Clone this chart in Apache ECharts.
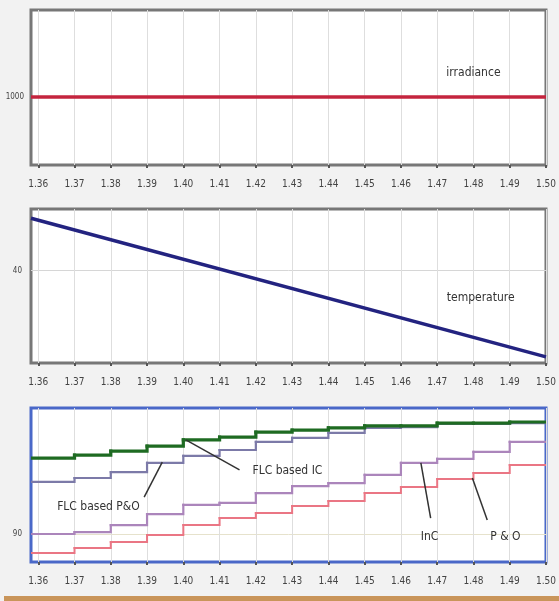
<!DOCTYPE html>
<html><head><meta charset="utf-8">
<script src="https://cdn.jsdelivr.net/npm/echarts@6/dist/echarts.min.js"></script>
<style>html,body{margin:0;padding:0;background:#f2f2f2;}#c{width:559px;height:601px;}</style>
</head><body><div id="c"></div>
<script>
// ---- data ----
const xTicks = [1.36,1.37,1.38,1.39,1.40,1.41,1.42,1.43,1.44,1.45,1.46,1.47,1.48,1.49,1.50];
const xStart = 1.358, xEnd = 1.50;
const stepX = [1.358,1.37,1.38,1.39,1.40,1.41,1.42,1.43,1.44,1.45,1.46,1.47,1.48,1.49];
const irradiance = [1000, 1000];
const temperature = [43.4, 34.4];
const flcIC  = [117.1,118.2,119.6,121.4,123.6,124.6,126.4,127.1,127.9,128.6,128.6,129.6,129.6,130.0];
const flcPO  = [108.6,110.0,112.1,115.4,117.9,120.0,122.9,124.3,126.1,127.9,128.2,129.3,129.3,129.6];
const inc    = [90.0,90.7,93.2,97.1,100.4,101.1,104.6,107.1,108.2,111.1,115.4,116.8,119.3,122.9];
const po     = [83.2,85.0,87.1,89.6,93.2,95.7,97.5,100.0,101.8,104.6,106.8,109.6,111.8,114.6];

const font = "'DejaVu Sans Condensed','Liberation Sans Narrow','Liberation Sans',sans-serif";
// each step segment: [xFrom, xTo, value, nextValue]
function stepSegments(vals){
  return stepX.map((x,i)=>[x, i < stepX.length-1 ? stepX[i+1] : xEnd, vals[i], i < vals.length-1 ? vals[i+1] : vals[i]]);
}
function stepSeries(vals, color, width){
  return {type:'custom', xAxisIndex:2, yAxisIndex:2, data:stepSegments(vals), encode:{x:[0,1], y:[2,3]}, clip:true,
    renderItem:(params, api)=>{
      const x0=api.value(0), x1=api.value(1), v=api.value(2), vn=api.value(3);
      return {type:'polyline', shape:{points:[api.coord([x0,v]), api.coord([x1,v]), api.coord([x1,vn])]},
        style:{stroke:color, lineWidth:width, fill:null, lineCap:'square', lineJoin:'miter'}};
    }};
}
const grids = [
  {left:31, top:10, width:518, height:155},
  {left:31, top:209, width:518, height:154},
  {left:31, top:408, width:518, height:154}
];
const borderCols = ['#777777','#777777','#4a68c8'];
const chart = echarts.init(document.getElementById('c'));
const xAxes = grids.map((g,i)=>({
  type:'value', gridIndex:i, min:xStart, max:xEnd,
  axisLine:{show:false},
  axisTick:{show:true, customValues:xTicks, length:3, lineStyle:{color:'#555', width:2}},
  axisLabel:{customValues:xTicks, formatter:v=>v.toFixed(2), fontFamily:font, fontSize:10, color:'#444', margin:14},
  splitLine:{show:true, lineStyle:{color:'#dedede', width:1}}
}));
const yAxes = [
  {type:'value', gridIndex:0, min:0, max:2280, axisLine:{show:false}, axisTick:{show:false, customValues:[1000]},
   axisLabel:{customValues:[1000], formatter:v=>String(v), fontFamily:font, fontSize:8, color:'#444', margin:7}, splitLine:{show:false}},
  {type:'value', gridIndex:1, min:34, max:44, axisLine:{show:false}, axisTick:{show:false, customValues:[40]},
   axisLabel:{customValues:[40], formatter:v=>String(v), fontFamily:font, fontSize:8, color:'#444', margin:9}, splitLine:{show:true, lineStyle:{color:'#d6d6d6'}}},
  {type:'value', gridIndex:2, min:80, max:135, axisLine:{show:false}, axisTick:{show:false, customValues:[90]},
   axisLabel:{customValues:[90], formatter:v=>String(v), fontFamily:font, fontSize:8, color:'#444', margin:9}, splitLine:{show:true, lineStyle:{color:'#e6e2cc'}}}
];
const txt = (name, coord, size) => ({name, coord, symbolSize:0, label:{show:true, formatter:'{b}', position:'inside', fontFamily:font, fontSize:size||12, color:'#333'}});
const lead = (a,b) => [{coord:a},{coord:b}];
chart.setOption({
  animation:false,
  backgroundColor:'#f2f2f2',
  grid: grids.map((g,i)=>Object.assign({show:true, backgroundColor:'#ffffff', borderColor:borderCols[i], borderWidth:3}, g)),
  xAxis:xAxes, yAxis:yAxes,
  series:[
    {type:'line', xAxisIndex:0, yAxisIndex:0, data:[[xStart, irradiance[0]],[xEnd, irradiance[1]]], symbol:'none', lineStyle:{color:'#c4243e', width:3.5},
     markPoint:{data:[txt('irradiance',[1.480,1350],12)]}},
    {type:'line', xAxisIndex:1, yAxisIndex:1, data:[[xStart, temperature[0]],[xEnd, temperature[1]]], symbol:'none', lineStyle:{color:'#232380', width:3.5},
     markPoint:{data:[txt('temperature',[1.482,38.2],12)]}},
    stepSeries(po, '#ea7684', 2),
    stepSeries(inc, '#ab85bb', 2.2),
    stepSeries(flcPO, '#7c7aa8', 2.2),
    stepSeries(flcIC, '#1e6b22', 3.2),
    {type:'line', xAxisIndex:2, yAxisIndex:2, data:[], symbol:'none',
     markLine:{symbol:'none', silent:true, label:{show:false}, lineStyle:{color:'#333', width:1.5, type:'solid'},
       data:[lead([1.3892,103.2],[1.3942,115.7]), lead([1.4007,123.6],[1.4155,112.9]), lead([1.4655,115.4],[1.4682,95.7]), lead([1.4797,110],[1.4838,95])]},
     markPoint:{data:[txt('FLC based P&O',[1.3766,99.6]), txt('FLC based IC',[1.4287,112.5]), txt('InC',[1.4679,88.9]), txt('P & O',[1.4888,88.9])]}}
  ],
  graphic:[{type:'rect', shape:{x:4, y:596, width:555, height:5}, style:{fill:'#c9955a'}}]
});
</script></body></html>
